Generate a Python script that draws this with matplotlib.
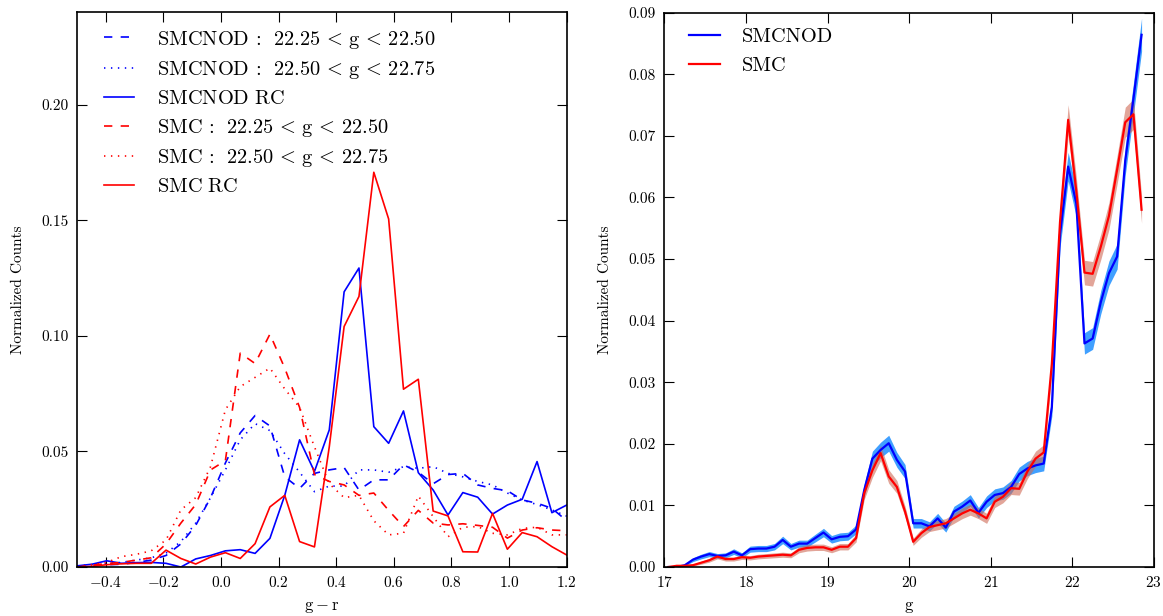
import numpy as np
import matplotlib
matplotlib.use('Agg')
import matplotlib.pyplot as plt

plt.rcParams['font.family'] = 'serif'
plt.rcParams['font.serif'] = ['cmr10']
plt.rcParams['mathtext.fontset'] = 'cm'
plt.rcParams['axes.formatter.use_mathtext'] = True
plt.rcParams['lines.scale_dashes'] = False

# left panel: g - r colour distributions (bin positions)
gr = np.linspace(-0.5, 1.2, 34)

smcnod_2225 = [0.0, 0.0005, 0.001, 0.0012, 0.002, 0.003, 0.005, 0.010, 0.018, 0.030,
               0.045, 0.058, 0.0655, 0.061, 0.039, 0.034, 0.0405, 0.042, 0.043, 0.0333,
               0.0377, 0.0377, 0.0442, 0.041, 0.036, 0.040, 0.0405, 0.0355, 0.034, 0.033,
               0.029, 0.0276, 0.0254, 0.020]
smcnod_2250 = [0.0005, 0.001, 0.0015, 0.002, 0.003, 0.004, 0.006, 0.011, 0.019, 0.030,
               0.042, 0.055, 0.062, 0.059, 0.049, 0.041, 0.0326, 0.035, 0.035, 0.042,
               0.042, 0.041, 0.0434, 0.0427, 0.0434, 0.0405, 0.039, 0.037, 0.0355, 0.032,
               0.029, 0.027, 0.0247, 0.022]
smcnod_rc = [0.0005, 0.0012, 0.0027, 0.0016, 0.0019, 0.002, 0.0016, 0.0, 0.0035, 0.005,
             0.007, 0.0075, 0.0059, 0.0124, 0.031, 0.055, 0.0413, 0.0593, 0.119, 0.1293,
             0.0607, 0.0535, 0.0675, 0.0408, 0.0333, 0.0225, 0.0322, 0.0302, 0.0229, 0.0268,
             0.0293, 0.0456, 0.0235, 0.0268]
smc_2225 = [0.0, 0.0008, 0.0015, 0.002, 0.003, 0.004, 0.010, 0.019, 0.027, 0.042,
            0.046, 0.0925, 0.088, 0.1007, 0.086, 0.069, 0.040, 0.037, 0.0355, 0.031,
            0.032, 0.0245, 0.0175, 0.0245, 0.019, 0.0182, 0.0187, 0.018, 0.0172, 0.0125,
            0.016, 0.017, 0.016, 0.0157]
smc_2250 = [0.0, 0.001, 0.002, 0.0045, 0.0055, 0.007, 0.0117, 0.0247, 0.030, 0.0434,
            0.068, 0.078, 0.082, 0.086, 0.077, 0.069, 0.052, 0.036, 0.030, 0.031,
            0.020, 0.0139, 0.0146, 0.0307, 0.0218, 0.0131, 0.0172, 0.0175, 0.0146, 0.0139,
            0.0167, 0.0172, 0.0139, 0.0139]
smc_rc = [0.0, 0.0003, 0.001, 0.0014, 0.0016, 0.0016, 0.0073, 0.0037, 0.0013, 0.0043,
          0.0062, 0.0037, 0.0101, 0.026, 0.031, 0.011, 0.0087, 0.052, 0.104, 0.117,
          0.1707, 0.1505, 0.0769, 0.0812, 0.0242, 0.0221, 0.0066, 0.0065, 0.0232, 0.0077,
          0.0149, 0.0131, 0.0088, 0.0052]

# right panel: g magnitude distributions (bin centres)
gmag = np.linspace(17.05, 22.85, 59)

smcnod_g = [0.0, 0.0, 0.0003, 0.0012, 0.0017, 0.0021, 0.0018, 0.0019, 0.0025, 0.0019,
            0.0029, 0.003, 0.003, 0.0033, 0.0044, 0.0033, 0.0038, 0.0038, 0.0047, 0.0056,
            0.0045, 0.0049, 0.005, 0.0061, 0.0125, 0.0176, 0.019, 0.0201, 0.0174, 0.0155,
            0.0071, 0.0071, 0.0066, 0.0079, 0.0064, 0.009, 0.0098, 0.0108, 0.0088, 0.0106,
            0.0117, 0.012, 0.013, 0.0151, 0.016, 0.0165, 0.0168, 0.026, 0.054, 0.065,
            0.059, 0.0363, 0.0371, 0.043, 0.0477, 0.0504, 0.066, 0.076, 0.0864]
smc_g = [0.0, 0.0002, 0.0002, 0.0003, 0.0007, 0.0011, 0.0017, 0.0013, 0.0013, 0.0016,
         0.0015, 0.0017, 0.0018, 0.0019, 0.002, 0.0019, 0.0028, 0.0031, 0.0032, 0.0032,
         0.0028, 0.0033, 0.0033, 0.0047, 0.012, 0.0157, 0.0185, 0.0147, 0.013, 0.009,
         0.0041, 0.0055, 0.0065, 0.0068, 0.0071, 0.0079, 0.0087, 0.0093, 0.0087, 0.0079,
         0.0106, 0.0114, 0.0128, 0.0127, 0.0155, 0.0176, 0.0186, 0.033, 0.056, 0.0726,
         0.061, 0.0478, 0.0476, 0.052, 0.057, 0.0645, 0.0722, 0.0735, 0.058]
n_stars = 12000  # poisson error on normalized counts

fig = plt.figure(figsize=(11.63, 6.16), dpi=100)
ax1 = fig.add_axes([0.0662, 0.0795, 0.4211, 0.901])
ax2 = fig.add_axes([0.5713, 0.0795, 0.4208, 0.900])

lw = 1.2
dash = (6, 6)
dot = (1, 4)
ax1.plot(gr, smcnod_2225, color='b', lw=lw, dashes=dash, label=r'$\mathrm{SMCNOD\,:\ \,22.25\,<\,g\,<\,22.50}$')
ax1.plot(gr, smcnod_2250, color='b', lw=lw, dashes=dot, label=r'$\mathrm{SMCNOD\,:\ \,22.50\,<\,g\,<\,22.75}$')
ax1.plot(gr, smcnod_rc, color='b', lw=lw, label=r'$\mathrm{SMCNOD\ RC}$')
ax1.plot(gr, smc_2225, color='r', lw=lw, dashes=dash, label=r'$\mathrm{SMC\,:\ \,22.25\,<\,g\,<\,22.50}$')
ax1.plot(gr, smc_2250, color='r', lw=lw, dashes=dot, label=r'$\mathrm{SMC\,:\ \,22.50\,<\,g\,<\,22.75}$')
ax1.plot(gr, smc_rc, color='r', lw=lw, label=r'$\mathrm{SMC\ RC}$')
ax1.set_xlim(-0.5, 1.2)
ax1.set_ylim(0, 0.24)
ax1.set_xticks([-0.4, -0.2, 0.0, 0.2, 0.4, 0.6, 0.8, 1.0, 1.2])
ax1.set_yticks([0.0, 0.05, 0.10, 0.15, 0.20])
ax1.set_yticklabels(['0.00', '0.05', '0.10', '0.15', '0.20'])
ax1.set_xlabel(r'$\mathrm{g-r}$', fontsize=12, labelpad=7)
ax1.set_ylabel('Normalized Counts', fontsize=11, labelpad=12)
ax1.legend(loc='upper left', bbox_to_anchor=(0.015, 1.005), frameon=False, fontsize=14.7,
           handlelength=1.5, handletextpad=1.1, labelspacing=0.42, borderaxespad=0.55)

sb = np.sqrt(np.array(smcnod_g) / n_stars)
sr = np.sqrt(np.array(smc_g) / n_stars)
ax2.fill_between(gmag, np.array(smcnod_g) - sb, np.array(smcnod_g) + sb, color='#1e8fff', alpha=0.85, lw=0)
ax2.fill_between(gmag, np.array(smc_g) - sr, np.array(smc_g) + sr, color='#cf6a55', alpha=0.6, lw=0)
ax2.plot(gmag, smcnod_g, color='b', lw=1.6, label='SMCNOD')
ax2.plot(gmag, smc_g, color='r', lw=1.6, label='SMC')
ax2.set_xlim(17, 23)
ax2.set_ylim(0, 0.09)
ax2.set_yticks(np.arange(0, 0.091, 0.01))
ax2.set_yticklabels(['%.2f' % v for v in np.arange(0, 0.091, 0.01)])
ax2.set_xlabel(r'$\mathrm{g}$', fontsize=12, labelpad=7)
ax2.set_ylabel('Normalized Counts', fontsize=11, labelpad=12)
ax2.legend(loc='upper left', bbox_to_anchor=(0.011, 1.008), frameon=False, fontsize=14.7,
           handlelength=1.5, handletextpad=1.1, labelspacing=0.55, borderaxespad=0.55)

for ax in (ax1, ax2):
    ax.tick_params(direction='in', top=True, right=True, length=7, width=0.8, labelsize=11, pad=6)
    for s in ax.spines.values():
        s.set_linewidth(1.2)

fig.savefig('out.png', dpi=100)
